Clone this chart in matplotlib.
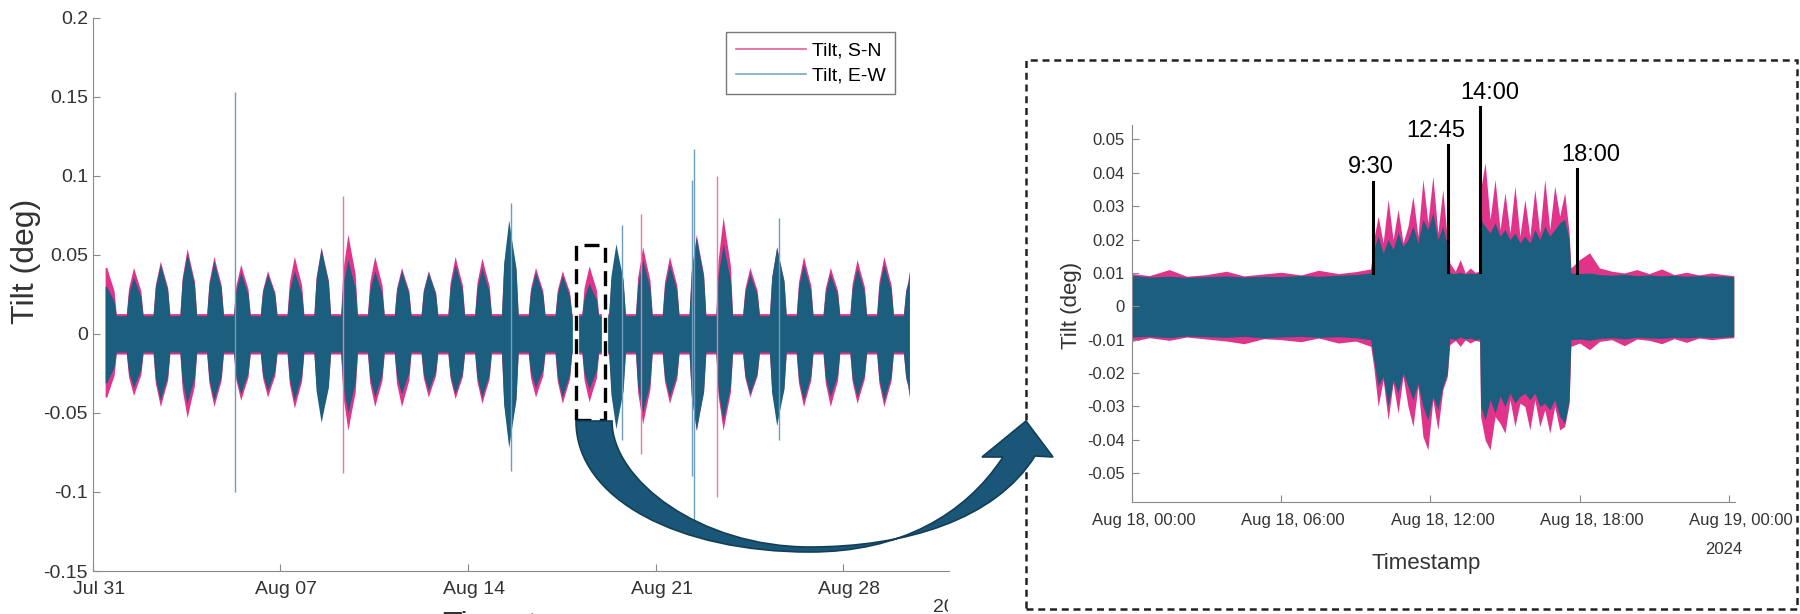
import numpy as np
import matplotlib.pyplot as plt
from matplotlib.path import Path
from matplotlib.patches import PathPatch, Rectangle
from matplotlib.lines import Line2D
from matplotlib.transforms import Bbox, TransformedBbox, ScaledTranslation

plt.rcParams['font.family'] = ['Liberation Sans', 'DejaVu Sans']

# ---------------- data: month overview (days since Jul 31) ----------------
t_start, t_end = 0.46, 30.47
# daily burst peaks, Jul 31 .. Aug 30
sn_hi = [0.042, 0.042, 0.046, 0.054, 0.049, 0.044, 0.040, 0.049, 0.055, 0.063, 0.049,
         0.042, 0.040, 0.049, 0.048, 0.068, 0.042, 0.040, 0.043, 0.050, 0.055, 0.049,
         0.063, 0.074, 0.042, 0.055, 0.049, 0.042, 0.047, 0.049, 0.040]
sn_lo = [-0.040, -0.039, -0.046, -0.053, -0.046, -0.042, -0.040, -0.047, -0.050, -0.061, -0.046,
         -0.046, -0.040, -0.041, -0.044, -0.068, -0.040, -0.044, -0.043, -0.050, -0.057, -0.044,
         -0.061, -0.061, -0.040, -0.055, -0.046, -0.046, -0.044, -0.046, -0.040]
ew_hi = [0.030, 0.036, 0.044, 0.051, 0.046, 0.039, 0.038, 0.040, 0.054, 0.047, 0.040,
         0.040, 0.039, 0.044, 0.042, 0.072, 0.039, 0.037, 0.032, 0.057, 0.047, 0.044,
         0.061, 0.057, 0.038, 0.055, 0.044, 0.038, 0.042, 0.044, 0.039]
ew_lo = [-0.031, -0.034, -0.042, -0.044, -0.042, -0.038, -0.036, -0.042, -0.056, -0.050, -0.040,
         -0.038, -0.036, -0.038, -0.040, -0.072, -0.034, -0.040, -0.035, -0.060, -0.050, -0.040,
         -0.061, -0.055, -0.038, -0.058, -0.042, -0.040, -0.040, -0.042, -0.040]
sn_night = 0.0128
ew_night = 0.0115
# hour of day and share of the daily peak for a working-day burst
burst_hours = [6.0, 8.0, 10.0, 12.5, 15.0, 17.0, 19.0, 21.0]
burst_share = [0.0, 0.55, 0.75, 1.0, 0.8, 0.65, 0.5, 0.0]

# single spikes
spike_day = [5.3, 9.33, 15.6, 19.75, 20.45, 22.35, 22.42, 23.3, 25.6]
spike_hi = [0.153, 0.087, 0.083, 0.069, 0.076, 0.097, 0.117, 0.100, 0.073]
spike_lo = [-0.100, -0.088, -0.087, -0.067, -0.076, -0.090, -0.118, -0.103, -0.067]
spike_series = ['E-W', 'S-N', 'E-W', 'E-W', 'S-N', 'E-W', 'E-W', 'S-N', 'E-W']

month_ticks = [0, 7, 14, 21, 28]
month_labels = ['Jul 31', 'Aug 07', 'Aug 14', 'Aug 21', 'Aug 28']
month_yticks = [-0.15, -0.1, -0.05, 0, 0.05, 0.1, 0.15, 0.2]
month_ylabels = ['-0.15', '-0.1', '-0.05', '0', '0.05', '0.1', '0.15', '0.2']

# ---------------- data: Aug 18 detail (hours since 00:00) ----------------
day_h = [0, 0.7, 1.5, 2.2, 3.0, 3.8, 4.5, 5.3, 6.0, 6.8, 7.5, 8.3, 9.0, 9.6,
         9.72, 9.9, 10.1, 10.3, 10.5, 10.7, 10.9, 11.1, 11.3, 11.5, 11.7, 11.9, 12.1, 12.3, 12.5, 12.68,
         12.78, 13.0, 13.2, 13.4, 13.6, 13.8, 13.98,
         14.02, 14.2, 14.4, 14.6, 14.8, 15.0, 15.2, 15.4, 15.6, 15.8, 16.0, 16.2, 16.4, 16.6, 16.8,
         17.0, 17.2, 17.4, 17.58,
         17.65, 18.0, 18.4, 18.8, 19.3, 19.8, 20.3, 20.8, 21.3, 21.8, 22.3, 22.8, 23.3, 23.8, 24.2]
day_ew_up = [0.0092, 0.0088, 0.0090, 0.0087, 0.0089, 0.0091, 0.0088, 0.0090, 0.0089, 0.0092, 0.0090, 0.0093, 0.0095, 0.0100,
             0.017, 0.021, 0.016, 0.020, 0.017, 0.022, 0.018, 0.020, 0.024, 0.019, 0.026, 0.023, 0.028, 0.020, 0.024, 0.018,
             0.0100, 0.0098, 0.0102, 0.0097, 0.0100, 0.0098, 0.0100,
             0.026, 0.024, 0.022, 0.025, 0.021, 0.023, 0.020, 0.022, 0.019, 0.021, 0.019, 0.023, 0.020, 0.024, 0.021,
             0.023, 0.025, 0.026, 0.020,
             0.0100, 0.0098, 0.0100, 0.0095, 0.0093, 0.0096, 0.0092, 0.0094, 0.0091, 0.0093, 0.0090, 0.0092, 0.0090, 0.0091, 0.0089]
day_sn_up = [0.0098, 0.0092, 0.0110, 0.0090, 0.0095, 0.0105, 0.0091, 0.0097, 0.0102, 0.0094, 0.0108, 0.0098, 0.0104, 0.0112,
             0.020, 0.027, 0.019, 0.032, 0.020, 0.029, 0.019, 0.024, 0.033, 0.021, 0.038, 0.025, 0.039, 0.022, 0.035, 0.020,
             0.013, 0.0105, 0.014, 0.0100, 0.0115, 0.0102, 0.0105,
             0.035, 0.043, 0.026, 0.038, 0.023, 0.034, 0.022, 0.036, 0.021, 0.032, 0.021, 0.035, 0.022, 0.038, 0.023,
             0.036, 0.027, 0.034, 0.022,
             0.0115, 0.014, 0.016, 0.0115, 0.0105, 0.0100, 0.0110, 0.0098, 0.0112, 0.0095, 0.0102, 0.0094, 0.0100, 0.0095, 0.0092]
day_ew_lo = [-0.0092, -0.0090, -0.0094, -0.0089, -0.0091, -0.0093, -0.0090, -0.0095, -0.0092, -0.0090, -0.0093, -0.0091, -0.0094, -0.0100,
             -0.016, -0.024, -0.021, -0.030, -0.022, -0.026, -0.020, -0.024, -0.028, -0.023, -0.030, -0.034, -0.027, -0.031, -0.024, -0.020,
             -0.0095, -0.0100, -0.0092, -0.0098, -0.0095, -0.0100, -0.0097,
             -0.030, -0.034, -0.028, -0.032, -0.027, -0.030, -0.026, -0.029, -0.027, -0.026, -0.028, -0.026, -0.030, -0.029, -0.031,
             -0.028, -0.033, -0.035, -0.028,
             -0.0100, -0.0098, -0.0102, -0.0096, -0.0094, -0.0098, -0.0093, -0.0095, -0.0096, -0.0093, -0.0095, -0.0092, -0.0094, -0.0092, -0.0090]
day_sn_lo = [-0.0105, -0.0094, -0.0102, -0.0092, -0.0098, -0.0104, -0.0112, -0.0097, -0.0100, -0.0106, -0.0095, -0.0110, -0.0104, -0.0120,
             -0.018, -0.030, -0.022, -0.034, -0.023, -0.032, -0.021, -0.030, -0.036, -0.024, -0.039, -0.043, -0.028, -0.037, -0.025, -0.021,
             -0.0115, -0.0102, -0.0120, -0.0100, -0.0110, -0.0102, -0.0105,
             -0.033, -0.040, -0.043, -0.033, -0.035, -0.038, -0.028, -0.036, -0.029, -0.030, -0.037, -0.028, -0.036, -0.031, -0.038,
             -0.030, -0.037, -0.036, -0.029,
             -0.0120, -0.0110, -0.0130, -0.0105, -0.0100, -0.0118, -0.0098, -0.0102, -0.0112, -0.0097, -0.0108, -0.0095, -0.0100, -0.0096, -0.0094]

mark_hours = [9.7, 12.7, 14.0, 17.9]
mark_labels = ['9:30', '12:45', '14:00', '18:00']
mark_bottom = [0.0100, 0.0104, 0.0104, 0.0099]
mark_top = [0.0373, 0.0483, 0.0597, 0.0410]

day_ticks = [0, 6, 12, 18, 24]
day_labels = ['Aug 18, 00:00', 'Aug 18, 06:00', 'Aug 18, 12:00', 'Aug 18, 18:00', 'Aug 19, 00:00']
day_yticks = [-0.05, -0.04, -0.03, -0.02, -0.01, 0, 0.01, 0.02, 0.03, 0.04, 0.05]
day_ylabels = ['-0.05', '-0.04', '-0.03', '-0.02', '-0.01', '0', '0.01', '0.02', '0.03', '0.04', '0.05']

PINK = '#e2338b'
TEAL = '#1b5e7d'
GREY = '#8a8a8a'
TXT = '#333333'

W, H = 1800, 614
fig = plt.figure(figsize=(18, 6.14), dpi=100)


def fx(px):
    return px / W


def fy(py):
    return 1 - py / H


def month_envelope(hi, lo, base):
    t, up, dn = [t_start], [hi[0]], [lo[0]]
    for d in range(len(hi)):
        for h, s in zip(burst_hours, burst_share):
            tt = d + h / 24
            if t_start < tt < t_end:
                t.append(tt)
                up.append(base + s * (hi[d] - base))
                dn.append(-base + s * (lo[d] + base))
    t.append(t_end)
    up.append(hi[-1])
    dn.append(lo[-1])
    return t, up, dn


def style_axes(a, size, xpad, ypad, xshift):
    for s in ['top', 'right']:
        a.spines[s].set_visible(False)
    for s in ['left', 'bottom']:
        a.spines[s].set_color(GREY)
        a.spines[s].set_linewidth(0.8)
    a.tick_params(direction='in', length=5, width=0.8, color=GREY,
                  labelsize=size, labelcolor=TXT)
    a.tick_params(axis='x', pad=xpad)
    a.tick_params(axis='y', pad=ypad)
    shift = ScaledTranslation(xshift, 0, fig.dpi_scale_trans)
    for lab in a.get_xticklabels():
        lab.set_transform(lab.get_transform() + shift)


# ---------------- left panel ----------------
ax = fig.add_axes([fx(92.8), fy(571), fx(949) - fx(92.8), fy(17.6) - fy(571)])
t, up, dn = month_envelope(sn_hi, sn_lo, sn_night)
ax.fill_between(t, dn, up, color=PINK, lw=0)
for d, hi, lo, s in zip(spike_day, spike_hi, spike_lo, spike_series):
    if s == 'S-N':
        ax.vlines(d, lo, hi, color='#e57aa8', lw=1)
t, up, dn = month_envelope(ew_hi, ew_lo, ew_night)
ax.fill_between(t, dn, up, color=TEAL, lw=0)
for d, hi, lo, s in zip(spike_day, spike_hi, spike_lo, spike_series):
    if s == 'E-W':
        ax.vlines(d, lo, hi, color='#6f9dbb', lw=1)

ax.set_xlim(0, 31.95)
ax.set_ylim(-0.15, 0.2)
ax.set_xticks(month_ticks, month_labels)
ax.set_yticks(month_yticks, month_ylabels)
style_axes(ax, 14, 7, 3.5, 0.06)

# zoom box on Aug 18
ax.add_patch(Rectangle((18.02, -0.0544), 1.09, 0.1104, fill=False, ec='white', lw=4.5, zorder=5))
ax.add_patch(Rectangle((18.02, -0.0544), 1.09, 0.1104, fill=False, ec='black', lw=2.4,
                       ls=(0, (4.5, 2.5)), zorder=6))

handles = [Line2D([], [], color='#e0609a', lw=1.2), Line2D([], [], color='#7aa7c7', lw=1.2)]
ax.legend(handles, ['Tilt, S-N', 'Tilt, E-W'], loc='upper right',
          bbox_to_anchor=(fx(895), fy(32)), bbox_transform=fig.transFigure,
          fancybox=False, edgecolor='#555555', fontsize=14, handlelength=3.6,
          borderaxespad=0, borderpad=0.5, labelspacing=0.4, handletextpad=0.3)

fig.text(fx(26), fy(261), 'Tilt (deg)', rotation=90, ha='center', va='center',
         fontsize=23, color=TXT)
fig.text(fx(521), fy(611), 'Timestamp', ha='center', va='top', fontsize=23, color=TXT)
yr = fig.text(fx(933), fy(607), '2024', ha='left', va='center', fontsize=14, color=TXT)
yr.set_clip_box(TransformedBbox(Bbox([[0, 0], [fx(948), 1]]), fig.transFigure))
yr.set_clip_on(True)

# ---------------- right panel (Aug 18) ----------------
ax2 = fig.add_axes([fx(1132), fy(502), fx(1735) - fx(1132), fy(125) - fy(502)])
ax2.fill_between(day_h, day_sn_lo, day_sn_up, color=PINK, lw=0)
ax2.fill_between(day_h, day_ew_lo, day_ew_up, color=TEAL, lw=0)
ax2.set_xlim(0, 24.25)
ax2.set_ylim(-0.0586, 0.0543)
ax2.set_xticks(day_ticks, day_labels)
ax2.set_yticks(day_yticks, day_ylabels)
style_axes(ax2, 12, 8, 5, 0.12)

text_dx = [-2, -8.6, 7.2, 10]
for h, lab, lo, hi, dx in zip(mark_hours, mark_labels, mark_bottom, mark_top, text_dx):
    ax2.plot([h, h], [lo, hi], color='black', lw=2.2, clip_on=False, zorder=5)
    ax2.annotate(lab, (h, hi), xytext=(dx, 6), textcoords='offset points',
                 ha='center', va='baseline', fontsize=17, color='black',
                 annotation_clip=False)

fig.text(fx(1071), fy(305), 'Tilt (deg)', rotation=90, ha='center', va='center',
         fontsize=16, color=TXT)
fig.text(fx(1426), fy(563), 'Timestamp', ha='center', va='center', fontsize=16, color=TXT)
fig.text(fx(1724), fy(549), '2024', ha='center', va='center', fontsize=12, color=TXT)

# dashed frame round the detail panel
fig.add_artist(Rectangle((fx(1026), fy(609)), fx(1797) - fx(1026), fy(60) - fy(609),
                         transform=fig.transFigure, fill=False, ec='#222222', lw=1.8,
                         ls=(0, (2.8, 1.9))))

# curved arrow from the zoom box to the detail panel
verts = [(576, 421), (576, 500), (680, 552), (810, 552),
         (900, 552), (965, 515), (1003, 457),
         (982, 457), (1026, 421), (1053, 457), (1035, 456),
         (995, 520), (905, 547), (810, 547),
         (700, 547), (612, 480), (612, 421), (576, 421)]
codes = [Path.MOVETO] + [Path.CURVE4] * 6 + [Path.LINETO] * 4 + [Path.CURVE4] * 6 + [Path.CLOSEPOLY]
arrow = Path([(fx(x), fy(y)) for x, y in verts], codes)
fig.add_artist(PathPatch(arrow, transform=fig.transFigure, fc='#1a5677', ec='#123f57', lw=1.2))

fig.savefig('out.png', dpi=100)
